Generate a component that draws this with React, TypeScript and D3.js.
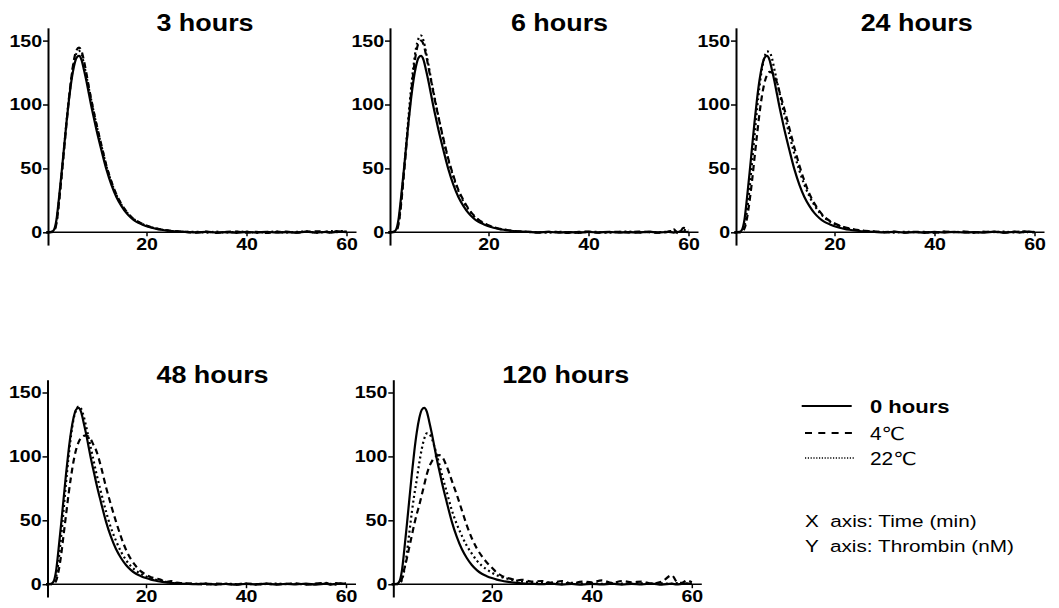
import React, { useRef, useEffect } from 'react';
import * as d3 from 'd3';

// sampling times (min), shared by every curve
const times = [0, 1, 1.5, 2, 2.5, 3, 3.5, 4, 4.5, 5, 5.5, 6, 6.5, 7, 7.5, 8, 8.5, 9, 9.5, 10,
  11, 12, 13, 14, 15, 16, 17, 18, 19, 20, 21, 22, 23, 24, 25, 26, 28, 30, 32, 34,
  36, 38, 40, 42, 44, 46, 48, 50, 52, 54, 56, 57, 58, 59, 60];

// 0 hours reference (solid, same in every panel)
const hours0 = [0, 0.3, 2, 10, 27, 46, 66, 86, 104, 119, 130, 136.5, 138, 135, 127, 118, 108, 98, 89, 80,
  64, 49, 37, 27.5, 20.5, 15, 11, 8.2, 6.3, 4.8, 3.6, 2.7, 2, 1.4, 1, 0.7, 0.3, 0, 0.4, -0.3,
  0.2, -0.4, 0.3, -0.2, 0.4, -0.3, 0.2, -0.2, 0.5, -0.3, 0.4, -0.2, 0.3, 0.6, 0.2];

// 4°C (dashed)
const h3_4C = [0, 0.2, 1.2, 7, 23, 43, 64, 85, 105, 122, 135, 142.5, 144.5, 142, 134, 124, 113, 103, 93.5, 84.5,
  68, 52, 39.5, 29.5, 22, 16.3, 12, 9, 7, 5.3, 4, 3, 2.2, 1.6, 1.1, 0.8, 0.2, -0.3, 0.5, -0.4,
  0.3, 0.6, -0.3, 0.4, -0.5, 0.3, 0.5, -0.2, 0.4, 0.8, 0.2, -0.3, 0.9, 0.4, 0.6];
const h6_4C = [0, 0.2, 1, 6, 21, 42, 64, 87, 108, 126, 140, 148, 150, 147, 139, 129, 119, 109, 99, 90,
  73, 57, 44, 33, 25, 18.5, 13.5, 10, 7.5, 5.5, 4.1, 3, 2.2, 1.6, 1.1, 0.7, 0.3, -0.3, 0.4, 0.2,
  -0.4, 0.3, 0.5, -0.3, 0.2, 0.4, -0.2, 0.6, 0.1, -0.3, 0.5, 2.5, -1.0, 3.5, 1.5];
const h24_4C = [0, 0, 0.5, 3, 11, 24, 40, 58, 76, 93, 107, 117, 123, 125.5, 125, 122, 117, 110, 103, 96,
  81, 66, 52, 40, 30, 22.5, 16.5, 12, 9, 7, 5.2, 4, 3, 2.2, 1.6, 1.2, 0.6, 0.2, 0.5, -0.2,
  0.4, 0.1, -0.3, 0.5, 0.2, 0.6, -0.2, 0.4, 0.3, -0.3, 0.5, 0.2, 0.8, -0.4, 0.3];
const h48_4C = [0, 0, 0.3, 2.5, 10, 22, 38, 54, 70, 84, 96, 105, 111, 114.5, 116, 116.5, 115.5, 113, 109, 105,
  92, 76, 62, 49, 37, 27, 19.5, 14, 10, 7.5, 5.5, 4.5, 3.5, 1.5, 2.5, 1.2, 0.6, 0.3, -0.2, 0.4,
  0.2, -0.3, 0.5, 0.1, 0.4, -0.2, 0.3, 0.6, -0.3, 0.5, 1.0, -0.4, 0.8, 0.3, 0.5];
const h120_4C = [0, 0, 0.5, 4, 12, 20, 29, 38, 47, 55, 62, 70, 78, 86, 92, 96, 99, 100.5, 101, 100,
  92, 81, 70, 58, 46, 36, 28, 22, 17, 13, 9, 6.5, 5, 4, 3, 3.5, 2, 2.5, 1, 2.5,
  0.5, 2, 1.5, 3, 1, 2.5, 1.5, 2, 0.5, 2, 7, 2, 1, 3, 1.5];

// 22°C (dotted)
const h3_22C = [0, 0.3, 1.5, 8, 25, 44, 65, 86, 105, 121, 133, 140, 142, 139, 131.5, 122, 112, 102.5, 93, 84,
  67.5, 51.5, 39, 29, 21.5, 16, 11.8, 8.8, 6.8, 5.1, 3.9, 2.9, 2.1, 1.5, 1, 0.7, 0.3, 0.4, -0.3, 0.5,
  -0.2, 0.3, 0.5, -0.4, 0.2, 0.6, -0.2, 0.3, 0.7, -0.3, 0.5, 0.9, 0.2, 1.0, 0.4];
const h6_22C = [0, 0.3, 1.5, 7, 23, 44, 67, 90, 112, 130, 144, 151.5, 154, 150, 141, 131, 120, 110, 100, 90.5,
  72, 56, 43, 32, 24, 17.8, 13, 9.6, 7.1, 5.3, 3.9, 2.9, 2.1, 1.5, 1, 0.7, 0.3, 0.2, -0.3, 0.4,
  0.1, -0.2, 0.4, 0.2, -0.3, 0.3, 0.5, -0.2, 0.3, 0.2, 0.6, 1.2, 0.4, 1.8, 0.8];
const h24_22C = [0, 0.1, 0.8, 5, 17, 34, 54, 75, 96, 114, 128, 137, 141.5, 141, 136, 127, 118, 109, 100, 92,
  76, 61, 48, 37, 28, 21, 15.5, 11.5, 8.5, 6.5, 5, 3.7, 2.7, 2, 1.4, 1, 0.5, 0.2, -0.2, 0.4,
  0.1, 0.3, -0.2, 0.5, 0.1, 0.3, -0.3, 0.4, 0.2, 0.5, -0.1, 0.6, 0.2, 0.3, 0.1];
const h48_22C = [0, 0.1, 0.8, 5, 18, 36, 57, 79, 99, 116, 129, 136, 139, 137.5, 132, 124, 115, 106, 97, 88,
  72, 57, 44, 34, 25.5, 19, 14, 10.5, 8, 6, 4.5, 3.4, 2.5, 1.8, 1.3, 0.9, 0.4, 0.2, 0.4, -0.2,
  0.3, 0.1, 0.4, -0.3, 0.2, 0.5, 0.1, 0.3, -0.2, 0.4, 0.6, 0.2, -0.3, 0.5, 0.3];
const h120_22C = [0, 0, 0.5, 3, 11, 24, 40, 56, 70, 82, 95, 106, 114, 118, 117.5, 114, 108, 101, 94, 86,
  72, 58, 47, 38, 30, 24, 18.5, 14.5, 11.5, 9, 7, 5.5, 4.5, 3.5, 2.8, 2.2, 1.5, 1, 1.3, 0.6,
  1.0, 0.4, 0.8, 0.3, 0.9, 0.5, 0.2, 0.7, 0.4, 0.6, 0.3, 0.8, 0.5, 0.2, 0.6];

const panelTitles = ['3 hours', '6 hours', '24 hours', '48 hours', '120 hours'];
const series4C = [h3_4C, h6_4C, h24_4C, h48_4C, h120_4C];
const series22C = [h3_22C, h6_22C, h24_22C, h48_22C, h120_22C];
const xTicks = [20, 40, 60];
const yTicks = [0, 50, 100, 150];
const legendLabels = ['0 hours', '4℃', '22℃'];
const axisNotes = ['X  axis: Time (min)', 'Y  axis: Thrombin (nM)'];

// layout (pixels)
const W = 1059;
const H = 608;
const FONT = '"Liberation Sans", Arial, "DejaVu Sans", sans-serif';
const K = 1.278; // px per nM
const panels = [
  { x0: 48, y0: 232.3, tx: 205 },
  { x0: 390, y0: 232.3, tx: 559.5 },
  { x0: 736, y0: 232.3, tx: 916.7 },
  { x0: 47.5, y0: 584.2, tx: 212.5 },
  { x0: 393.3, y0: 584.2, tx: 565.7 }
];
const styles = [
  { dash: null, width: 2.2 },
  { dash: '6,4', width: 2.2 },
  { dash: '2,3', width: 2.2 }
];

const addText = (g, x, y, str, size, weight, anchor, sx) =>
  g.append('text')
    .attr('transform', `translate(${x},${y}) scale(${sx},1)`)
    .attr('text-anchor', anchor)
    .attr('font-family', FONT)
    .attr('font-size', size)
    .attr('font-weight', weight)
    .attr('fill', '#000')
    .style('white-space', 'pre')
    .text(str);

const draw = (svgEl) => {
  const svg = d3.select(svgEl);
  svg.selectAll('*').remove();

  panels.forEach((p, i) => {
    const x = d3.scaleLinear().domain([0, 62]).range([p.x0 - 1.5, p.x0 - 1.5 + 310]);
    const y = d3.scaleLinear().domain([-10, 160]).range([p.y0 + 10 * K, p.y0 - 160 * K]);
    const g = svg.append('g');

    const line = d3.line()
      .x((d, j) => x(times[j]))
      .y((d) => y(d))
      .curve(d3.curveMonotoneX);

    [hours0, series4C[i], series22C[i]].forEach((s, k) => {
      g.append('path')
        .attr('d', line(s))
        .attr('fill', 'none')
        .attr('stroke', '#000')
        .attr('stroke-width', styles[k].width)
        .attr('stroke-linejoin', 'round')
        .attr('stroke-dasharray', styles[k].dash);
    });

    const xAxis = g.append('g')
      .attr('transform', `translate(0,${p.y0})`)
      .call(d3.axisBottom(x).tickValues(xTicks).tickSize(4).tickSizeOuter(0).tickPadding(2));
    xAxis.select('.domain').attr('d', `M${p.x0},0H${x(62)}`).attr('stroke-width', 1.5);
    xAxis.selectAll('.tick line').attr('stroke-width', 1.5);
    xAxis.selectAll('.tick text')
      .attr('font-family', FONT).attr('font-size', 17).attr('font-weight', 'bold')
      .attr('fill', '#000')
      .attr('transform', 'scale(1.15,1)');

    const yAxis = g.append('g')
      .attr('transform', `translate(${p.x0},0)`)
      .call(d3.axisLeft(y).tickValues(yTicks).tickSize(5).tickSizeOuter(0));
    yAxis.select('.domain').attr('stroke-width', 2);
    yAxis.selectAll('.tick line').attr('stroke-width', 1.5);
    yAxis.selectAll('.tick text')
      .attr('x', 0)
      .attr('font-family', FONT).attr('font-size', 17).attr('font-weight', 'bold')
      .attr('fill', '#000')
      .attr('transform', 'translate(-6,0) scale(1.15,1)');

    addText(svg, p.tx, p.y0 - 201.5, panelTitles[i], 23, 'bold', 'middle', 1.17);
  });

  // legend
  const lg = svg.append('g');
  const rows = [406, 433, 458];
  const legendDash = [null, '7,6.3', '1.2,1.6'];
  const legendW = [2, 2, 1.5];
  const legendX = [[801.7, 851.7], [805, 852], [805, 855]];
  legendLabels.forEach((lab, k) => {
    lg.append('line')
      .attr('x1', legendX[k][0]).attr('x2', legendX[k][1])
      .attr('y1', rows[k]).attr('y2', rows[k])
      .attr('stroke', '#000')
      .attr('stroke-width', legendW[k])
      .attr('stroke-dasharray', legendDash[k]);
    addText(lg, 870, rows[k] + 7, lab, k === 0 ? 19 : 18, k === 0 ? 'bold' : 'normal', 'start', 1.16);
  });
  axisNotes.forEach((t, k) => {
    addText(lg, 805, 526.7 + k * 25, t, 17, 'normal', 'start', 1.22);
  });
};

export default function App() {
  const ref = useRef(null);
  useEffect(() => {
    if (ref.current) draw(ref.current);
  }, []);
  return (
    <svg
      ref={ref}
      width={W}
      height={H}
      style={{ position: 'absolute', left: 0, top: 0, background: '#fff' }}
    />
  );
}
